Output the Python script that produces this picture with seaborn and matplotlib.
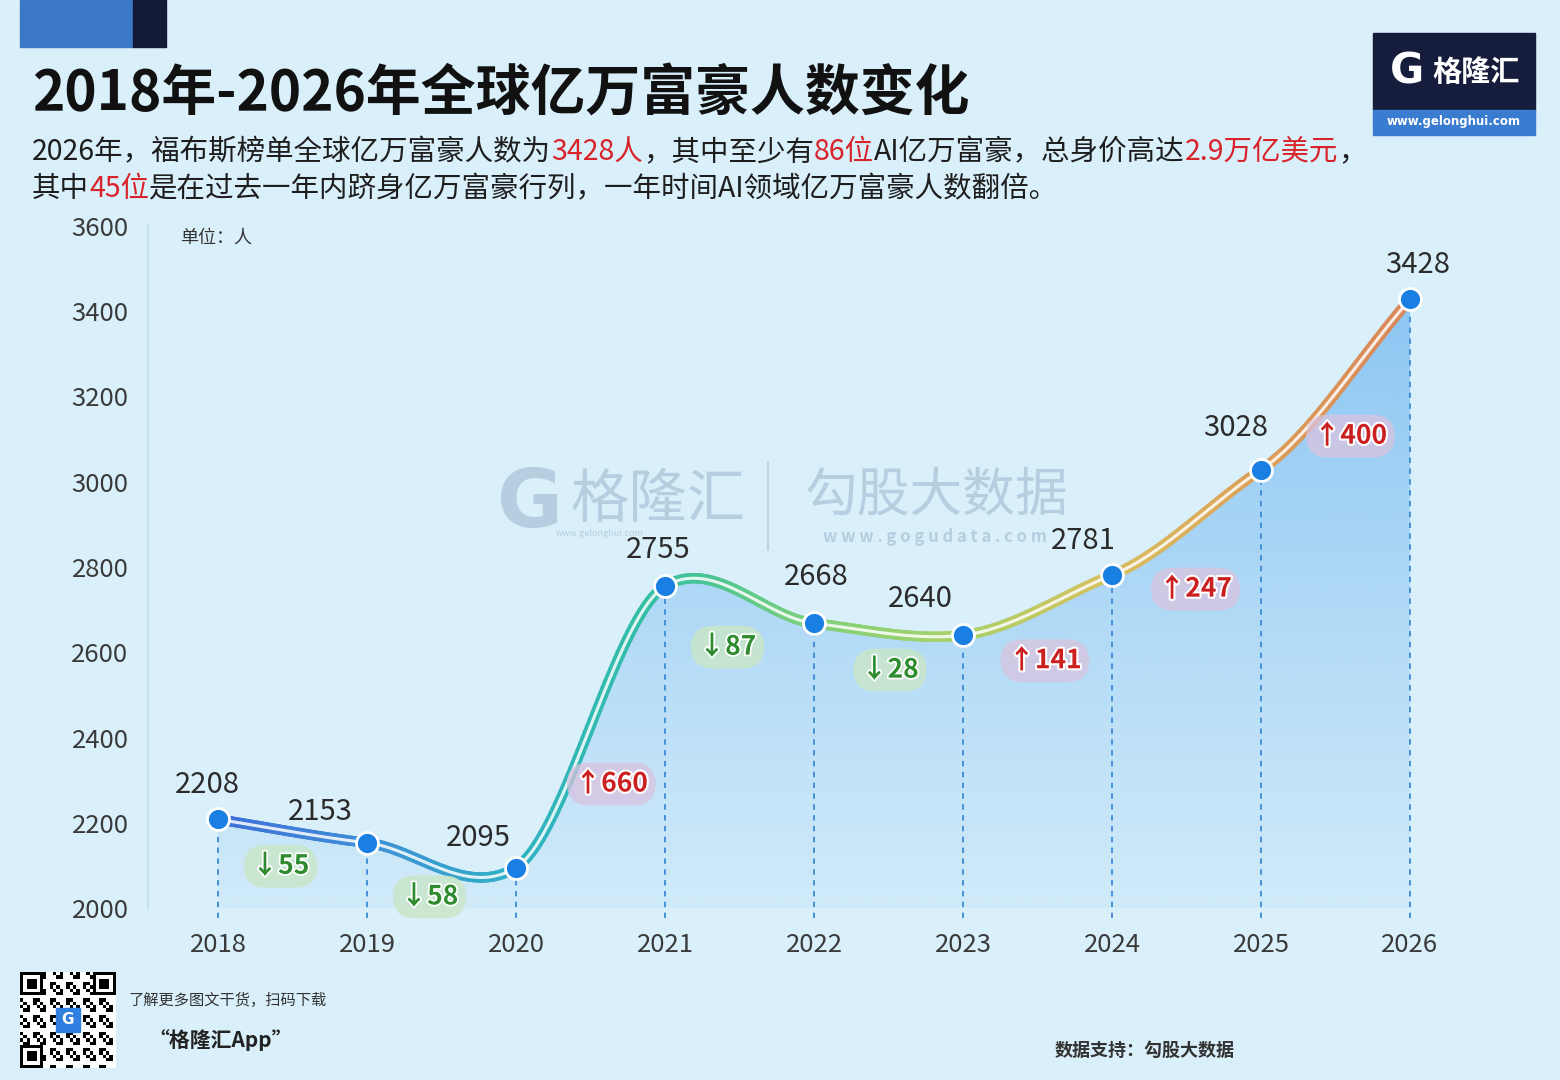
import numpy as np
import pandas as pd
import seaborn as sns
import matplotlib
matplotlib.use("Agg")
import matplotlib.pyplot as plt
from matplotlib.collections import LineCollection
from matplotlib.colors import LinearSegmentedColormap
from matplotlib.patches import Rectangle
import matplotlib.patheffects as pe

# ---------------- data ----------------
years = [2018, 2019, 2020, 2021, 2022, 2023, 2024, 2025, 2026]
billionaires = [2208, 2153, 2095, 2755, 2668, 2640, 2781, 3028, 3428]
yticks = [2000, 2200, 2400, 2600, 2800, 3000, 3200, 3400, 3600]
title = "2018年-2026年全球亿万富豪人数变化"
sub_line1 = [("2026年，福布斯榜单全球亿万富豪人数为", "d"), ("3428人", "r"),
             ("，其中至少有", "d"), ("86位", "r"), ("AI亿万富豪，总身价高达", "d"),
             ("2.9万亿美元", "r"), ("，", "d")]
sub_line2 = [("其中", "d"), ("45位", "r"),
             ("是在过去一年内跻身亿万富豪行列，一年时间AI领域亿万富豪人数翻倍。", "d")]
unit_label = "单位：人"
source_label = "数据支持：勾股大数据"
qr_line1 = "了解更多图文干货，扫码下载"
qr_line2 = "“格隆汇App”"

# ---------------- style / layout (pixels) ----------------
value_label_offsets = [(-11, 34), (-47, 31), (-38, 30), (-7, 36), (2, 46),
                       (-43, 36), (-29, 34), (-25, 42), (8, 34)]
change_label_pos = [(2018.42, 2098), (2019.42, 2026), (2020.64, 2291), (2021.42, 2612),
                    (2022.51, 2558), (2023.55, 2580), (2024.56, 2748), (2025.60, 3107)]
tangent_scale = 0.72

W, H = 1560, 1080
BG = "#d9effa"
DARK = "#1e1e1e"
RED = "#d8232a"

sns.set_theme(style="white")
plt.rcParams["font.family"] = ["Noto Sans CJK SC", "DejaVu Sans"]
plt.rcParams["axes.unicode_minus"] = False

fig = plt.figure(figsize=(W / 100, H / 100), dpi=100, facecolor=BG)


def fx(px):
    return px / W


def fy(py):
    return 1 - py / H


ax_left, ax_right, ax_top, ax_bot = 148, 1484, 226, 908
ax = fig.add_axes([fx(ax_left), fy(ax_bot), fx(ax_right - ax_left), (ax_bot - ax_top) / H])
ax.set_facecolor("none")
px_per_year = (1410 - 218) / 8
XLIM = (2018 - (218 - ax_left) / px_per_year, 2018 + (ax_right - 218) / px_per_year)


# smooth path through the data points (cubic Hermite with damped Catmull-Rom tangents)
def smooth_path(x, y, n=60, k=1.0):
    x = np.asarray(x, float)
    y = np.asarray(y, float)
    m = np.zeros_like(y)
    m[1:-1] = k * (y[2:] - y[:-2]) / (x[2:] - x[:-2])
    m[0] = (y[1] - y[0]) / (x[1] - x[0])
    m[-1] = (y[-1] - y[-2]) / (x[-1] - x[-2])
    xs, ys = [], []
    for i in range(len(x) - 1):
        t = np.linspace(0, 1, n, endpoint=False)
        h = x[i + 1] - x[i]
        h00 = 2 * t**3 - 3 * t**2 + 1
        h10 = t**3 - 2 * t**2 + t
        h01 = -2 * t**3 + 3 * t**2
        h11 = t**3 - t**2
        xs.append(x[i] + t * h)
        ys.append(h00 * y[i] + h10 * h * m[i] + h01 * y[i + 1] + h11 * h * m[i + 1])
    xs.append([x[-1]])
    ys.append([y[-1]])
    return np.concatenate(xs), np.concatenate(ys)


xs, ys = smooth_path(years, billionaires, k=tangent_scale)

# gradient area fill under curve
poly = ax.fill_between(xs, ys, 2000, color="none", lw=0)
grad_h = 256
alpha = np.linspace(0.12, 0.85, grad_h)[:, None] ** 1.1
img = np.zeros((grad_h, 2, 4))
img[..., 0] = 125 / 255
img[..., 1] = 190 / 255
img[..., 2] = 242 / 255
img[..., 3] = alpha
im = ax.imshow(img, extent=[xs.min(), xs.max(), 2000, max(billionaires)], origin="lower",
               aspect="auto", zorder=1, interpolation="bilinear")
im.set_clip_path(poly.get_paths()[0], transform=ax.transData)
ax.set_xlim(*XLIM)
ax.set_ylim(2000, 3600)

# dashed drop lines
ax.vlines(years, 1977, billionaires, colors="#3b8ad6", linestyles=(0, (3, 3)), lw=1.3,
          zorder=2, clip_on=False)

# gradient line
cmap = LinearSegmentedColormap.from_list(
    "line", ["#3d6fd6", "#3f8fd8", "#2fb2c6", "#35c0a0", "#7fd07a", "#a9d26a",
             "#d8c060", "#dca058", "#d8875a"])
pts = np.column_stack([xs, ys]).reshape(-1, 1, 2)
segs = np.concatenate([pts[:-1], pts[1:]], axis=1)
lc = LineCollection(segs, cmap=cmap, linewidths=7.5, capstyle="round", zorder=3)
lc.set_array((xs[:-1] - 2018) / 8)
lc.set_clim(0, 1)
ax.add_collection(lc)
ax.plot(xs, ys, color="white", lw=2.2, alpha=0.85, zorder=4, solid_capstyle="round")

# points
df = pd.DataFrame({"year": years, "count": billionaires})
sns.scatterplot(data=df, x="year", y="count", s=250, color="#1a7fe3", edgecolor="white",
                linewidth=2, zorder=6, ax=ax, legend=False)

# value labels
for yr, v, (dx, dy) in zip(years, billionaires, value_label_offsets):
    ax.annotate(f"{v}", (yr, v), xytext=(dx, dy), textcoords="offset pixels",
                ha="center", va="center", fontsize=21, color="#2b2b2b", zorder=7)

# change labels
diffs = np.diff(billionaires)
for d, (lx, ly) in zip(diffs, change_label_pos):
    if d < 0:
        ax.text(lx, ly, f"↓{abs(d)}", ha="center", va="center", fontsize=19,
                fontweight="bold", color="#2e8b2e", zorder=7,
                bbox=dict(boxstyle="round,pad=0.3,rounding_size=0.85", fc="#c9e6c9",
                          ec="none", alpha=0.85),
                path_effects=[pe.withStroke(linewidth=2.5, foreground="white")])
    else:
        ax.text(lx, ly, f"↑{d}", ha="center", va="center", fontsize=19,
                fontweight="bold", color="#cc1f1f", zorder=7,
                bbox=dict(boxstyle="round,pad=0.3,rounding_size=0.85", fc="#d9c3df",
                          ec="none", alpha=0.75),
                path_effects=[pe.withStroke(linewidth=3, foreground="white")])

# axes styling
ax.set_yticks(yticks)
ax.set_xticks(years)
ax.set_yticklabels([str(t) for t in yticks], fontsize=18.5, color="#3a3a3a", fontweight="medium")
ax.set_xticklabels([str(y) for y in years], fontsize=18.5, color="#3a3a3a", fontweight="medium")
ax.tick_params(axis="y", length=0, pad=14)
ax.tick_params(axis="x", length=0, pad=17)
ax.set_xlabel("")
ax.set_ylabel("")
for s in ["top", "right", "bottom"]:
    ax.spines[s].set_visible(False)
ax.spines["left"].set_color("#c3dff0")
ax.spines["left"].set_linewidth(1.5)
ax.grid(False)

fig.text(fx(180), fy(238), unit_label, fontsize=13, color="#333333", va="center")

# ---------------- figure decorations ----------------
fig.patches.append(Rectangle((fx(20), fy(47)), fx(113), 47 / H, transform=fig.transFigure,
                             color="#3b78c6", zorder=0))
fig.patches.append(Rectangle((fx(133), fy(47)), fx(33), 47 / H, transform=fig.transFigure,
                             color="#141b36", zorder=0))

fig.text(fx(32), fy(93), title, fontsize=39.5, fontweight="bold", color="#111111", va="center")

renderer = fig.canvas.get_renderer()


def rich(x0, y0, parts, **kw):
    x = x0
    for s, c in parts:
        t = fig.text(x, y0, s, color=RED if c == "r" else DARK, va="center", **kw)
        bb = t.get_window_extent(renderer)
        x += bb.width / fig.bbox.width


rich(fx(32), fy(152), sub_line1, fontsize=20.5)
rich(fx(32), fy(189), sub_line2, fontsize=20.5)

# logo top right
fig.patches.append(Rectangle((fx(1373), fy(110)), fx(162), 77 / H, transform=fig.transFigure,
                             color="#161c3b", zorder=0))
fig.patches.append(Rectangle((fx(1373), fy(135)), fx(162), 25 / H, transform=fig.transFigure,
                             color="#3a7ccf", zorder=0))
fig.text(fx(1407), fy(72), "G", fontsize=30, fontweight="bold", color="white",
         ha="center", va="center", family=["DejaVu Sans"])
fig.text(fx(1476), fy(72), "格隆汇", fontsize=21, fontweight="bold", color="white",
         ha="center", va="center")
fig.text(fx(1454), fy(122), "www.gelonghui.com", fontsize=8.5, fontweight="bold",
         color="white", ha="center", va="center", family=["DejaVu Sans"])

# watermark
wm = "#a7c1d6"
fig.text(fx(530), fy(505), "G", fontsize=58, fontweight="bold", color=wm, alpha=0.7,
         ha="center", va="center", family=["DejaVu Sans"])
fig.text(fx(658), fy(500), "格隆汇", fontsize=42, color=wm, alpha=0.7, ha="center",
         va="center")
fig.text(fx(600), fy(533), "www.gelonghui.com", fontsize=6.5, color=wm, alpha=0.7,
         ha="center", va="center")
fig.add_artist(plt.Line2D([fx(768), fx(768)], [fy(462), fy(550)], color=wm, alpha=0.6,
                          lw=1.5, transform=fig.transFigure))
fig.text(fx(937), fy(495), "勾股大数据", fontsize=38, color=wm, alpha=0.7, ha="center",
         va="center")
fig.text(fx(935), fy(537), "w w w . g o g u d a t a . c o m", fontsize=12,
         fontweight="bold", color=wm, alpha=0.7, ha="center", va="center")

# QR code (decorative)
qax = fig.add_axes([fx(20), fy(1068), fx(96), 96 / H])
n = 29
qr = np.ones((n, n))
ii, jj = np.meshgrid(np.arange(n), np.arange(n), indexing="ij")
qr[((ii * 7 + jj * 13 + ii * jj) % 5) < 2] = 0
for (r0, c0) in [(0, 0), (0, n - 7), (n - 7, 0)]:
    qr[r0:r0 + 7, c0:c0 + 7] = 0
    qr[r0 + 1:r0 + 6, c0 + 1:c0 + 6] = 1
    qr[r0 + 2:r0 + 5, c0 + 2:c0 + 5] = 0
qax.imshow(qr, cmap="gray", vmin=0, vmax=1, interpolation="nearest")
qax.add_patch(Rectangle((10.5, 10.5), 7, 7, color="#2f7fe0", zorder=3))
qax.text(14, 14, "G", color="white", fontsize=11, fontweight="bold", ha="center",
         va="center", zorder=4, family=["DejaVu Sans"])
qax.set_axis_off()

fig.text(fx(128), fy(1000), qr_line1, fontsize=11, style="italic", color="#333333",
         va="center")
fig.text(fx(148), fy(1040), qr_line2, fontsize=15, style="italic", fontweight="bold",
         color="#222222", va="center")
fig.text(fx(1055), fy(1050), source_label, fontsize=13, fontweight="bold", color="#333333",
         va="center")

fig.savefig("out.png", dpi=100, facecolor=BG)
